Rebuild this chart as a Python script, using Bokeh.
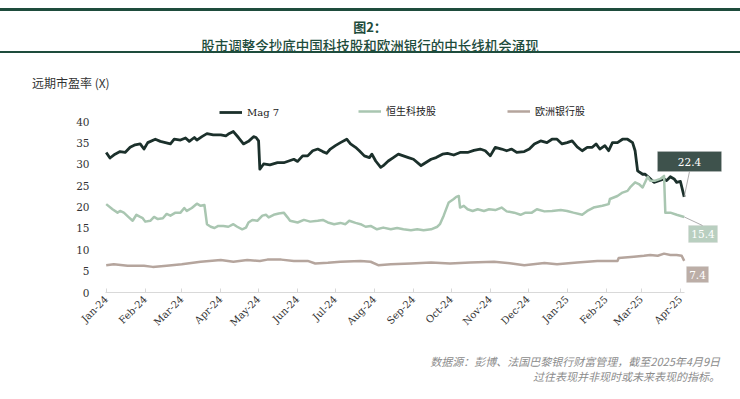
import pandas as pd
from bokeh.plotting import figure
from bokeh.models import (Range1d, DatetimeTickFormatter, MonthsTicker, FixedTicker, Label,
                          Legend, LegendItem, Arrow, BoxAnnotation, Div)
from bokeh.layouts import column
from bokeh.embed import file_html
from bokeh.resources import INLINE

# ---------------- data ----------------
start_date = "2024-01-01"

mag7_days = [0, 3, 7, 11, 15, 19, 23, 27, 30, 33,
             39, 43, 47, 51, 54, 59, 63, 66, 70, 72,
             76, 80, 85, 91, 95, 97, 101, 105, 109, 113,
             117, 119, 121, 122, 125, 130, 136, 141, 145, 149,
             152, 156, 160, 164, 168, 172, 175, 178, 182, 186,
             191, 194, 198, 201, 205, 209, 211, 214, 218, 220,
             224, 228, 232, 236, 240, 244, 250, 252, 258, 262,
             267, 271, 276, 281, 287, 292, 297, 301, 305, 309,
             314, 318, 322, 326, 332, 336, 340, 345, 350, 354,
             358, 362, 366, 370, 374, 378, 382, 386, 389, 392,
             396, 399, 402, 406, 410, 414, 418, 420, 422, 426,
             428, 431, 435, 439, 443, 445, 448, 451, 453, 456,
             459]
mag7_pe = [32.8, 31.5, 32.4, 33.0, 32.8, 34.0, 34.6, 34.8, 33.6, 35.1,
           35.9, 35.4, 35.1, 34.8, 35.9, 35.7, 36.2, 35.4, 36.3, 35.7,
           36.5, 37.2, 36.9, 36.9, 36.7, 37.1, 37.7, 36.3, 34.8, 35.4,
           36.5, 36.3, 35.5, 28.9, 30.1, 29.9, 30.4, 30.4, 30.8, 31.2,
           30.7, 32.0, 32.0, 33.2, 33.6, 33.0, 32.6, 33.6, 34.4, 35.1,
           35.9, 34.8, 34.0, 33.2, 32.0, 31.6, 32.4, 30.8, 29.3, 29.7,
           30.8, 31.6, 32.4, 32.0, 31.6, 31.2, 29.7, 30.1, 31.2, 31.6,
           32.4, 32.6, 32.2, 32.8, 32.8, 33.3, 33.6, 33.2, 32.0, 34.0,
           33.6, 33.2, 33.6, 32.8, 33.0, 33.6, 34.8, 35.5, 35.1, 35.9,
           35.9, 34.8, 35.1, 35.5, 34.1, 33.2, 34.0, 34.0, 34.8, 33.6,
           34.4, 33.2, 35.1, 35.1, 35.9, 35.9, 35.1, 33.2, 28.5, 27.7,
           27.7, 26.9, 25.8, 26.2, 26.6, 26.2, 27.1, 26.6, 25.8, 26.0,
           22.4]

hstech_days = [0, 5, 9, 11, 14, 18, 21, 24, 27, 29,
               31, 35, 38, 41, 45, 48, 51, 55, 59, 62,
               64, 68, 72, 75, 78, 80, 83, 86, 89, 93,
               97, 101, 104, 108, 111, 113, 116, 120, 124, 127,
               129, 133, 137, 141, 144, 146, 152, 157, 162, 168,
               172, 176, 181, 186, 190, 193, 198, 202, 206, 210,
               215, 220, 226, 231, 236, 242, 247, 252, 258, 263,
               265, 268, 272, 276, 278, 280, 281, 284, 287, 291,
               295, 300, 304, 309, 314, 318, 324, 329, 333, 338,
               342, 348, 354, 361, 366, 371, 378, 382, 387, 394,
               399, 400, 406, 410, 414, 416, 420, 423, 426, 430,
               432, 436, 440, 443, 444, 448, 453, 459]
hstech_pe = [20.7, 19.5, 18.7, 19.1, 18.7, 17.6, 16.8, 18.2, 17.7, 17.4,
             16.6, 16.8, 17.7, 17.2, 17.4, 18.4, 18.0, 18.7, 18.7, 19.8,
             19.1, 19.8, 20.8, 20.3, 20.5, 16.0, 15.4, 15.1, 15.6, 15.6,
             15.4, 16.0, 15.4, 14.8, 15.2, 16.4, 17.0, 16.8, 18.0, 18.2,
             17.6, 18.2, 18.5, 18.7, 17.6, 16.8, 16.4, 17.0, 16.6, 16.8,
             17.0, 16.4, 16.0, 16.3, 16.0, 16.8, 16.3, 16.0, 15.4, 15.6,
             14.8, 15.2, 14.8, 15.1, 14.8, 14.6, 14.8, 14.6, 14.8, 15.4,
             16.0, 18.0, 21.1, 21.9, 22.4, 22.6, 19.9, 20.3, 19.5, 19.1,
             19.5, 19.1, 19.5, 19.3, 19.9, 19.0, 18.7, 18.2, 18.7, 18.7,
             19.5, 19.0, 19.1, 19.3, 19.1, 18.7, 18.2, 19.1, 19.9, 20.3,
             20.7, 21.9, 22.6, 23.4, 23.8, 24.6, 25.8, 25.4, 24.6, 27.1,
             26.2, 26.2, 26.6, 27.3, 18.7, 18.7, 18.2, 17.7]

eubank_days = [0, 6, 17, 30, 37, 48, 60, 75, 91, 101,
               112, 122, 128, 139, 149, 160, 166, 176, 186, 202,
               210, 216, 226, 242, 258, 273, 289, 308, 322, 332,
               348, 358, 374, 390, 406, 407, 419, 427, 432, 438,
               443, 448, 453, 457, 459]
eubank_pe = [6.4, 6.6, 6.25, 6.25, 6.0, 6.25, 6.6, 7.2, 7.6, 7.2,
             7.6, 7.4, 7.7, 7.7, 7.4, 7.4, 6.8, 6.95, 7.2, 7.4,
             7.2, 6.4, 6.6, 6.8, 7.0, 6.8, 7.0, 7.2, 6.8, 6.4,
             6.9, 6.6, 7.0, 7.4, 7.4, 8.1, 8.4, 8.6, 8.8, 8.6,
             9.1, 8.8, 8.8, 8.6, 7.4]

series_names = ["Mag 7", "恒生科技股", "欧洲银行股"]
end_labels = ["22.4", "15.4", "7.4"]
y_ticks = [0, 5, 10, 15, 20, 25, 30, 35, 40]

title_1 = "图2："
title_2 = "股市调整令抄底中国科技股和欧洲银行的中长线机会涌现"
y_title = "远期市盈率 (X)"
source_1 = "数据源：彭博、法国巴黎银行财富管理，截至2025年4月9日"
source_2 = "过往表现并非现时或未来表现的指标。"

# ---------------- styling ----------------
C_MAG = "#1b302b"
C_HST = "#a9c6b1"
C_EUB = "#b5a59d"
C_HEAD = "#1e4c3c"
SERIF = "DejaVu Serif"
CJK = "Noto Sans CJK SC"
W = 740

t0 = pd.Timestamp(start_date)


def to_dates(days):
    return t0 + pd.to_timedelta(days, unit="D")


mag_x, hst_x, eub_x = to_dates(mag7_days), to_dates(hstech_days), to_dates(eubank_days)

header = Div(
    text=(
        f'<div style="width:{W}px;height:100px;font-family:\'{CJK}\';">'
        f'<div style="height:8px;"></div>'
        f'<div style="height:45px;border-top:3px solid {C_HEAD};border-bottom:2px solid {C_HEAD};'
        f'text-align:center;color:{C_HEAD};">'
        f'<div style="padding-top:7px;font-size:13px;font-weight:bold;line-height:18px;">{title_1}</div>'
        f'<div style="font-size:13.5px;line-height:18px;font-weight:500;">{title_2}</div></div>'
        f'<div style="margin-top:22px;padding-left:32px;font-size:12px;line-height:16px;color:#333333;">{y_title}</div>'
        f'</div>'
    ),
    width=W, height=100, margin=0,
)

x_start = (t0 - pd.Timedelta(days=4.53)).to_pydatetime()
x_end = (t0 + pd.Timedelta(days=491.0)).to_pydatetime()

p = figure(width=W, height=245, x_axis_type="datetime",
           x_range=Range1d(x_start, x_end), y_range=Range1d(0, 44.5),
           output_backend="svg", toolbar_location=None, title=None,
           min_border_left=100, min_border_right=16, min_border_top=2, min_border_bottom=53)
p.margin = 0
p.outline_line_color = None
p.grid.grid_line_color = None
p.background_fill_color = "white"
p.border_fill_color = "white"

r_mag = p.line(mag_x, mag7_pe, line_color=C_MAG, line_width=2.8, line_join="round")
r_hst = p.line(hst_x, hstech_pe, line_color=C_HST, line_width=2.5, line_join="round")
r_eub = p.line(eub_x, eubank_pe, line_color=C_EUB, line_width=2.5, line_join="round")

# x axis
xa = p.xaxis[0]
xa.ticker = MonthsTicker(months=list(range(12)))
fmt = "%b-%y"
xa.formatter = DatetimeTickFormatter(days=fmt, months=fmt, years=fmt, hours=fmt,
                                     minutes=fmt, seconds=fmt, milliseconds=fmt,
                                     microseconds=fmt, minsec=fmt, hourmin=fmt)
xa.bounds = ((t0 - pd.Timedelta(days=0.5)).to_pydatetime(), mag_x[-1].to_pydatetime())
xa.axis_line_color = "#d9d9d9"
xa.major_tick_line_color = "#d9d9d9"
xa.major_tick_in = 4
xa.major_tick_out = 0
xa.minor_tick_line_color = None
xa.major_label_orientation = 0.785398
xa.major_label_text_font = SERIF
xa.major_label_text_font_size = "10px"
xa.major_label_text_color = "#333333"
xa.major_label_standoff = 5

ya = p.yaxis[0]
ya.ticker = FixedTicker(ticks=y_ticks)
ya.axis_line_color = None
ya.major_tick_line_color = None
ya.minor_tick_line_color = None
ya.major_label_text_font = SERIF
ya.major_label_text_font_size = "10.5px"
ya.major_label_text_color = "#333333"
ya.major_label_standoff = 5

# legends (screen units relative to the plot frame, origin bottom-left)
for name, rend, xloc, font in [(series_names[0], r_mag, 119, SERIF),
                               (series_names[1], r_hst, 258, CJK),
                               (series_names[2], r_eub, 407, CJK)]:
    leg = Legend(items=[LegendItem(label=name, renderers=[rend])], location=(xloc, 174),
                 orientation="horizontal", padding=0, margin=0, spacing=0,
                 glyph_width=23, glyph_height=12, label_height=12, label_standoff=5,
                 border_line_alpha=0, background_fill_alpha=0,
                 label_text_font=font, label_text_font_size="10px",
                 label_text_color="#222222")
    p.add_layout(leg)

# end-value callouts
callouts = [
    (end_labels[0], "#3e524c", (557, 621, 121, 141)),
    (end_labels[1], "#b9cfc0", (588, 617, 50, 67)),
    (end_labels[2], "#bcaea7", (586, 608, 10, 26)),
]
for txt, fill, (l, r, b, t) in callouts:
    p.add_layout(BoxAnnotation(left=l, right=r, bottom=b, top=t,
                               left_units="screen", right_units="screen",
                               bottom_units="screen", top_units="screen",
                               fill_color=fill, fill_alpha=1.0,
                               line_color="#d0d0d0", line_width=0.8))
    p.add_layout(Label(x=(l + r) / 2, y=(b + t) / 2, x_units="screen", y_units="screen",
                       text=txt, text_font=SERIF, text_font_size="10.5px",
                       text_color="white", text_align="center", text_baseline="middle"))

last_ms_mag = mag_x[-1].value / 1e6
last_ms_hst = hst_x[-1].value / 1e6
p.add_layout(Arrow(end=None, x_start=last_ms_mag, y_start=mag7_pe[-1], start_units="data",
                   x_end=589, y_end=121, end_units="screen",
                   line_color="#999999", line_width=0.8))
p.add_layout(Arrow(end=None, x_start=last_ms_hst, y_start=hstech_pe[-1], start_units="data",
                   x_end=602, y_end=67, end_units="screen",
                   line_color="#999999", line_width=0.8))

footer = Div(
    text=(
        f'<div style="width:{W - 20}px;padding-top:9px;text-align:right;font-family:\'{CJK}\';'
        f'font-style:italic;font-size:11px;line-height:15px;color:#8c8c8c;">'
        f'<div>{source_1}</div><div>{source_2}</div></div>'
    ),
    width=W, height=54, margin=0,
)

layout = column(header, p, footer, spacing=0)
open("out.html", "w").write(file_html(layout, INLINE))
